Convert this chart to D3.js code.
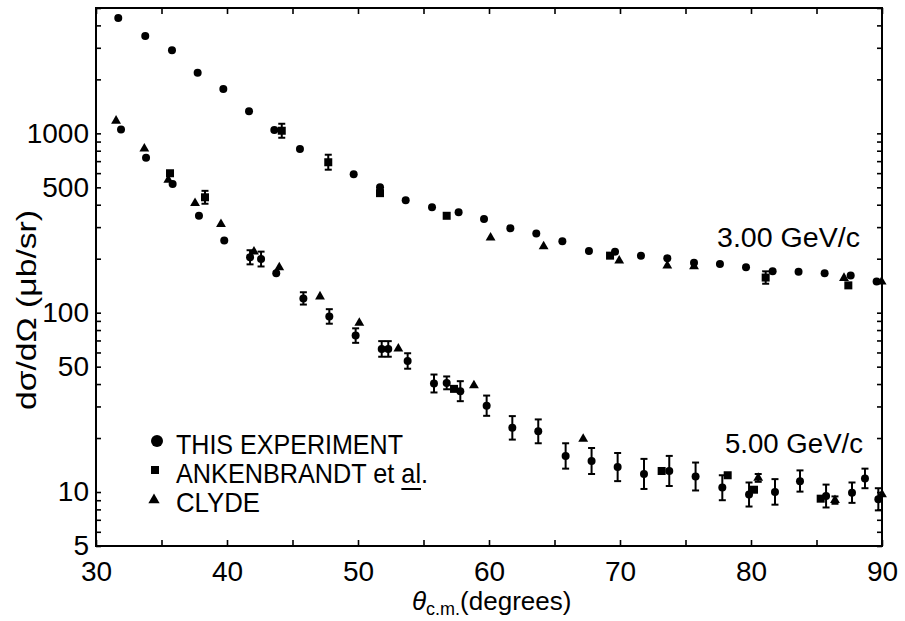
<!DOCTYPE html>
<html><head><meta charset="utf-8">
<script src="https://cdn.jsdelivr.net/npm/d3@7"></script>
<style>body{margin:0;background:#fff}text{font-family:"Liberation Sans",Arial,sans-serif;fill:#000}</style>
</head><body>
<svg id="c" width="905" height="621"></svg>
<script>
// ---- data ----
const xTickValues = [30,35,40,45,50,55,60,65,70,75,80,85,90];
const xTickLabels = [30,40,50,60,70,80,90];
const yTickValues = [5,6,7,8,9,10,20,30,40,50,60,70,80,90,100,200,300,400,500,600,700,800,900,1000,2000,3000,4000,5000];
const yTickLabels = [5,10,50,100,500,1000];
const legendLabels = ["THIS EXPERIMENT","ANKENBRANDT et al.","CLYDE"];
const seriesLabels = ["3.00 GeV/c","5.00 GeV/c"];

// 3.00 GeV/c  [theta, value, lo, hi]
const this3 = [[31.7,4400],[33.76,3490],[35.8,2910],[37.76,2180],[39.72,1770],[41.68,1330],[43.61,1043],[45.57,817],[49.67,591],[51.68,501],[53.64,424],[55.65,387],[57.68,363],[59.62,333],[61.63,296],[63.61,276],[65.6,250],[67.63,221],[69.62,219],[71.6,208],[73.61,201],[75.65,190],[77.63,187],[79.62,179],[81.65,170],[83.63,169],[85.62,166],[87.61,161],[89.59,149]];
const ank3 = [[44.18,1034,945,1131],[47.73,690,627,760],[51.68,464],[56.77,347],[69.24,208],[81.12,157,145,170],[87.43,142]];
const clyde3 = [[60.12,262],[64.17,234],[69.94,195],[73.61,183],[75.65,181],[87.1,156],[89.97,149]];

// 5.00 GeV/c
const this5 = [[31.91,1052],[33.82,731],[35.85,522],[37.86,347],[39.79,253],[41.76,204,186,223],[42.6,199,181,219],[43.76,166],[45.83,120,111,130],[47.81,95.3,86.8,104.6],[49.82,74.5,67.9,81.8],[51.81,62.8,56.8,69.4],[52.31,62.8,56.8,69.4],[53.79,53.8,48.7,59.4],[55.8,40.3,35.9,45.2],[56.77,40.6,37.4,44.1],[57.81,36.5,32.1,41.5],[59.82,30.3,26.6,34.5],[61.78,22.8,19.6,26.5],[63.76,21.8,18.7,25.4],[65.85,15.9,13.5,18.7],[67.83,14.9,12.6,17.6],[69.82,13.8,11.5,16.5],[71.83,12.6,10.4,15.3],[73.76,13.1,10.8,15.9],[75.77,12.2,10.2,14.6],[77.81,10.6,9.0,12.4],[79.85,9.7,8.3,11.3],[81.83,10.0,8.5,11.8],[83.74,11.5,10.05,13.2],[85.73,9.5,8.2,11.0],[87.71,9.9,8.7,11.3],[88.7,11.9,10.5,13.5],[89.72,9.1,7.9,10.5]];
const ank5 = [[35.65,599],[38.32,440,405,478],[57.33,37.6],[73.18,13.1],[78.22,12.4],[80.23,10.3],[85.32,9.18]];
const clyde5 = [[31.53,1175],[33.69,821],[35.52,550],[37.56,408],[39.54,312],[42.06,219],[43.99,179],[47.1,123],[50.1,87.6],[53.08,63],[58.85,39.3],[67.19,19.8],[80.55,12.0,11.4,12.6],[86.41,9.0,8.6,9.45],[90,9.7]];

// ---- layout ----
const L=96, R=882, T=8, B=546;
const svg = d3.select("#c");
const x = d3.scaleLinear().domain([30,90]).range([L,R]);
const y = d3.scaleLog().domain([5,5000]).range([B,T]);

svg.append("rect").attr("width",905).attr("height",621).attr("fill","#fff");

function styleAxis(g){
  g.select(".domain").remove();
  g.selectAll(".tick line").attr("stroke","#000").attr("stroke-width",1.6);
  g.selectAll(".tick text").attr("font-size",28).attr("fill","#000").attr("font-family","Liberation Sans, Arial, sans-serif");
}
svg.append("g").attr("transform",`translate(0,${B})`)
  .call(d3.axisBottom(x).tickValues(xTickValues).tickSize(-6).tickPadding(15)
    .tickFormat(d => xTickLabels.includes(d) ? d : ""))
  .call(styleAxis);
svg.append("g").attr("transform",`translate(0,${T})`)
  .call(d3.axisTop(x).tickValues(xTickValues).tickSize(-6).tickFormat(""))
  .call(styleAxis);
svg.append("g").attr("transform",`translate(${L},0)`)
  .call(d3.axisLeft(y).tickValues(yTickValues).tickSize(-5).tickPadding(7)
    .tickFormat(d => yTickLabels.includes(d) ? d : ""))
  .call(styleAxis);
svg.append("g").attr("transform",`translate(${R},0)`)
  .call(d3.axisRight(y).tickValues(yTickValues).tickSize(-5).tickFormat(""))
  .call(styleAxis);

svg.append("rect").attr("x",L).attr("y",T).attr("width",R-L).attr("height",B-T)
  .attr("fill","none").attr("stroke","#000").attr("stroke-width",2);

// ---- marks ----
const plot = svg.append("g");
function errorBars(data){
  const e = data.filter(d => d.length > 2);
  const g = plot.append("g").attr("stroke","#000").attr("stroke-width",2);
  g.selectAll(".v").data(e).join("line")
    .attr("x1",d=>x(d[0])).attr("x2",d=>x(d[0])).attr("y1",d=>y(d[2])).attr("y2",d=>y(d[3]));
  g.selectAll(".lo").data(e).join("line")
    .attr("x1",d=>x(d[0])-3.5).attr("x2",d=>x(d[0])+3.5).attr("y1",d=>y(d[2])).attr("y2",d=>y(d[2]));
  g.selectAll(".hi").data(e).join("line")
    .attr("x1",d=>x(d[0])-3.5).attr("x2",d=>x(d[0])+3.5).attr("y1",d=>y(d[3])).attr("y2",d=>y(d[3]));
}
function circles(data){
  errorBars(data);
  plot.append("g").selectAll("circle").data(data).join("circle")
    .attr("cx",d=>x(d[0])).attr("cy",d=>y(d[1])).attr("r",4).attr("fill","#000");
}
function squares(data){
  errorBars(data);
  plot.append("g").selectAll("rect").data(data).join("rect")
    .attr("x",d=>x(d[0])-4).attr("y",d=>y(d[1])-4).attr("width",8).attr("height",8).attr("fill","#000");
}
const tri = d3.symbol().type(d3.symbolTriangle).size(42);
function triangles(data){
  errorBars(data);
  plot.append("g").selectAll("path").data(data).join("path")
    .attr("transform",d=>`translate(${x(d[0])},${y(d[1])})`).attr("d",tri).attr("fill","#000");
}
circles(this3); squares(ank3); triangles(clyde3);
circles(this5); squares(ank5); triangles(clyde5);

// ---- labels ----
svg.append("text").attr("x",717).attr("y",247).attr("font-size",27)
  .attr("textLength",143).attr("lengthAdjust","spacingAndGlyphs").text(seriesLabels[0]);
svg.append("text").attr("x",725).attr("y",453).attr("font-size",27)
  .attr("textLength",138).attr("lengthAdjust","spacingAndGlyphs").text(seriesLabels[1]);

// legend
svg.append("circle").attr("cx",157).attr("cy",441).attr("r",6).attr("fill","#000");
svg.append("rect").attr("x",151).attr("y",466).attr("width",8).attr("height",8).attr("fill","#000");
svg.append("path").attr("transform","translate(154,500)").attr("d",d3.symbol().type(d3.symbolTriangle).size(55)).attr("fill","#000");
svg.append("text").attr("x",176).attr("y",454).attr("font-size",28)
  .attr("textLength",227).attr("lengthAdjust","spacingAndGlyphs").text(legendLabels[0]);
const ankText = svg.append("text").attr("x",176).attr("y",483).attr("font-size",28)
  .attr("textLength",252).attr("lengthAdjust","spacingAndGlyphs").text(legendLabels[1]);
// underline "al." (first three characters of the last word)
{
  const node = ankText.node();
  const s = legendLabels[1].lastIndexOf(" ") + 1;
  let x1 = 410, x2 = 428;
  try {
    x1 = node.getStartPositionOfChar(s).x;
    x2 = node.getEndPositionOfChar(s + 1).x;
  } catch(e) {}
  svg.append("line").attr("x1",x1).attr("x2",x2).attr("y1",489).attr("y2",489)
    .attr("stroke","#000").attr("stroke-width",2);
}
svg.append("text").attr("x",176).attr("y",512).attr("font-size",28)
  .attr("textLength",84).attr("lengthAdjust","spacingAndGlyphs").text(legendLabels[2]);

// axis titles
svg.append("text").attr("transform","translate(36,310) rotate(-90)")
  .attr("text-anchor","middle").attr("font-size",28)
  .attr("textLength",200).attr("lengthAdjust","spacingAndGlyphs").text("dσ/dΩ (μb/sr)");
const xt = svg.append("text").attr("x",412).attr("y",610).attr("font-size",26);
xt.append("tspan").attr("font-style","italic").text("θ");
xt.append("tspan").attr("font-size",18).attr("dy",5).text("c.m.");
xt.append("tspan").attr("dy",-5).text("(degrees)");
</script>
</body></html>
